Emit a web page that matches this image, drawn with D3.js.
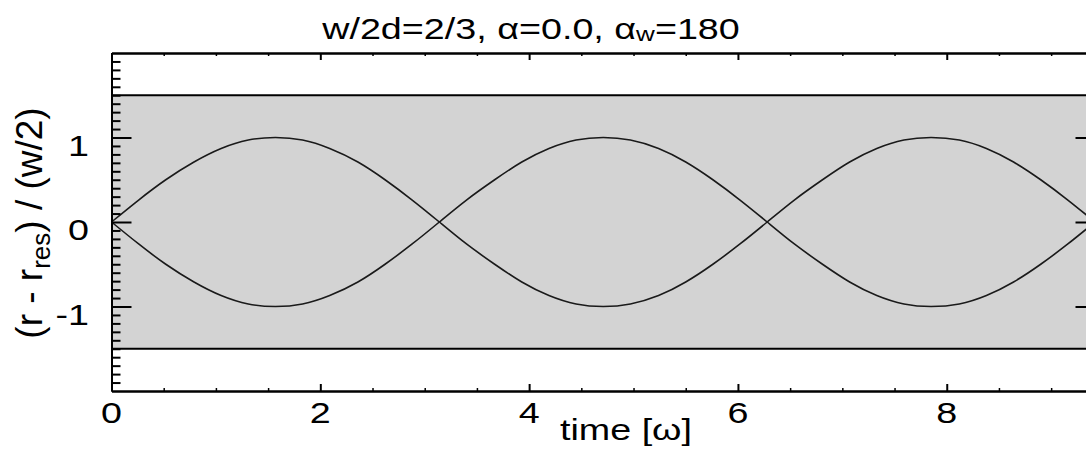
<!DOCTYPE html>
<html><head><meta charset="utf-8">
<script src="https://cdn.jsdelivr.net/npm/d3@7"></script>
<style>
html,body{margin:0;padding:0;background:#fff;}
svg{display:block;}
text{font-family:"Liberation Sans",Arial,Helvetica,sans-serif;fill:#000;}
</style></head>
<body>
<svg id="chart" width="1086" height="455"></svg>
<script>
// ---- data ----
const time = [0, 0.26, 0.52, 0.79, 1.05, 1.31, 1.57, 1.83, 2.09, 2.36, 2.62, 2.88, 3.14,
  3.40, 3.67, 3.93, 4.19, 4.45, 4.71, 4.97, 5.24, 5.50, 5.76, 6.02, 6.28,
  6.54, 6.81, 7.07, 7.33, 7.59, 7.85, 8.12, 8.38, 8.64, 8.90, 9.16, 9.42];
const upper = [0, 0.26, 0.50, 0.71, 0.87, 0.97, 1.00, 0.97, 0.87, 0.71, 0.50, 0.26, 0,
  -0.26, -0.50, -0.71, -0.87, -0.97, -1.00, -0.97, -0.87, -0.71, -0.50, -0.26, 0,
  0.26, 0.50, 0.71, 0.87, 0.97, 1.00, 0.97, 0.87, 0.71, 0.50, 0.26, 0];
const lower = [0, -0.26, -0.50, -0.71, -0.87, -0.97, -1.00, -0.97, -0.87, -0.71, -0.50, -0.26, 0,
  0.26, 0.50, 0.71, 0.87, 0.97, 1.00, 0.97, 0.87, 0.71, 0.50, 0.26, 0,
  -0.26, -0.50, -0.71, -0.87, -0.97, -1.00, -0.97, -0.87, -0.71, -0.50, -0.26, 0];
const bandLimits = [-1.5, 1.5];
const xDomain = [0, 9.4248];
const yDomain = [-2, 2];
const xMajorTicks = [0, 2, 4, 6, 8];
const xMinorTicks = [0.5, 1, 1.5, 2.5, 3, 3.5, 4.5, 5, 5.5, 6.5, 7, 7.5, 8.5, 9];
const yMajorTicks = [-1, 0, 1];
const yMinorTicks = [-1.9,-1.8,-1.7,-1.6,-1.5,-1.4,-1.3,-1.2,-1.1,-0.9,-0.8,-0.7,-0.6,-0.5,-0.4,-0.3,-0.2,-0.1,
  0.1,0.2,0.3,0.4,0.5,0.6,0.7,0.8,0.9,1.1,1.2,1.3,1.4,1.5,1.6,1.7,1.8,1.9];
const xTickLabels = ["0", "2", "4", "6", "8"];
const yTickLabels = ["-1", "0", "1"];

// ---- layout ----
const svg = d3.select("#chart");
const x = d3.scaleLinear().domain(xDomain).range([111.5, 1095.5]);
const y = d3.scaleLinear().domain(yDomain).range([391, 53]);
const SX = 1.3; // horizontal glyph stretch seen in the reference

svg.append("defs").append("clipPath").attr("id", "clip")
  .append("rect").attr("x", x(xDomain[0])).attr("y", y(yDomain[1]))
  .attr("width", x(xDomain[1]) - x(xDomain[0])).attr("height", y(yDomain[0]) - y(yDomain[1]));

// band
svg.append("rect")
  .attr("x", x(xDomain[0])).attr("width", x(xDomain[1]) - x(xDomain[0]))
  .attr("y", y(bandLimits[1])).attr("height", y(bandLimits[0]) - y(bandLimits[1]))
  .attr("fill", "#d3d3d3");
svg.selectAll("line.band").data(bandLimits).join("line").attr("class", "band")
  .attr("x1", x(xDomain[0])).attr("x2", x(xDomain[1]))
  .attr("y1", d => y(d)).attr("y2", d => y(d))
  .attr("stroke", "#000").attr("stroke-width", 2);

// curves
const line = d3.line().x((d, i) => x(time[i])).y(d => y(d)).curve(d3.curveNatural);
const cg = svg.append("g").attr("clip-path", "url(#clip)");
[upper, lower].forEach(s => {
  cg.append("path").attr("d", line(s)).attr("fill", "none")
    .attr("stroke", "#1a1a1a").attr("stroke-width", 1.6);
});

// axes
function style(g, w) {
  g.select(".domain").attr("stroke", "#000").attr("stroke-width", 2);
  g.selectAll(".tick line").attr("stroke", "#000").attr("stroke-width", w);
  g.selectAll(".tick text").remove();
}
const ax = [
  [d3.axisBottom, 391, xMajorTicks, -7, 2, x, "x"],
  [d3.axisBottom, 391, xMinorTicks, -3, 1.5, x, "x"],
  [d3.axisTop, 53, xMajorTicks, -7, 2, x, "x"],
  [d3.axisTop, 53, xMinorTicks, -3, 1.5, x, "x"],
  [d3.axisLeft, 111.5, yMajorTicks, -20, 2, y, "y"],
  [d3.axisLeft, 111.5, yMinorTicks, -9, 2, y, "y"],
  [d3.axisRight, 1095.5, yMajorTicks, -20, 2, y, "y"],
  [d3.axisRight, 1095.5, yMinorTicks, -9, 2, y, "y"]
];
ax.forEach(([fn, pos, vals, size, w, sc, dir]) => {
  const g = svg.append("g")
    .attr("transform", dir === "x" ? `translate(0,${pos})` : `translate(${pos},0)`)
    .call(fn(sc).tickValues(vals).tickSize(size).tickSizeOuter(0).tickFormat(() => ""));
  style(g, w);
});

// tick labels
svg.selectAll("text.xt").data(xMajorTicks).join("text").attr("class", "xt")
  .attr("transform", d => `translate(${x(d)},423) scale(${SX},1)`)
  .attr("text-anchor", "middle").attr("font-size", 29)
  .text((d, i) => xTickLabels[i]);
svg.selectAll("text.yt").data(yMajorTicks).join("text").attr("class", "yt")
  .attr("transform", d => `translate(89,${y(d) + 18}) scale(${SX},1)`)
  .attr("text-anchor", "end").attr("font-size", 29)
  .text((d, i) => yTickLabels[i]);

// title
const t = svg.append("text").attr("transform", `translate(531,39) scale(${SX},1)`)
  .attr("text-anchor", "middle").attr("font-size", 29);
t.append("tspan").text("w/2d=2/3, α=0.0, α");
t.append("tspan").attr("font-size", 20).attr("dy", 2).text("w");
t.append("tspan").attr("dy", -2).text("=180");

// x label
svg.append("text").attr("transform", `translate(626,440) scale(${SX},1)`)
  .attr("text-anchor", "middle").attr("font-size", 29).text("time [ω]");

// y label
const yl = svg.append("text").attr("transform", "translate(42,223) rotate(-90)")
  .attr("text-anchor", "middle").attr("font-size", 37);
yl.append("tspan").text("(r - r");
yl.append("tspan").attr("font-size", 26).attr("dy", 8).text("res");
yl.append("tspan").attr("dy", -8).text(") / (w/2)");
</script>
</body></html>
